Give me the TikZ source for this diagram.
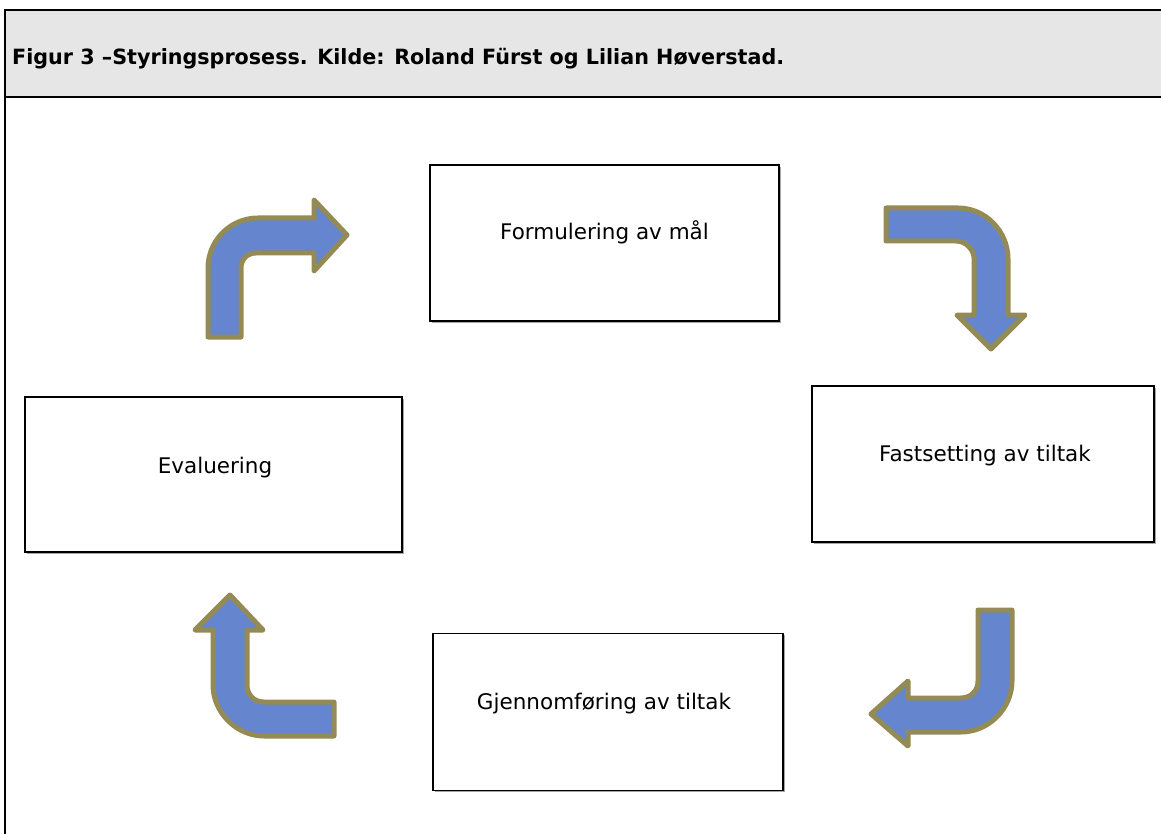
\documentclass[tikz,border=0pt]{standalone}
\usepackage{fontspec}
\setmainfont{DejaVu Sans}
\usetikzlibrary{shadows}
\definecolor{arrowfill}{HTML}{6586CE}
\definecolor{arrowline}{HTML}{948A54}
\definecolor{headgray}{HTML}{E6E6E6}
\begin{document}
\begin{tikzpicture}[x=1pt,y=-1pt,
  stepbox/.style={draw=black, line width=1.5pt, fill=white, inner sep=0pt,
    drop shadow={shadow xshift=1.6pt, shadow yshift=-1.6pt, opacity=1, fill=gray!70}},
  boxtext/.style={font=\fontsize{21.5}{26}\selectfont, inner sep=0pt, anchor=base},
  bentarrow/.style={fill=arrowfill, draw=arrowline, line width=5pt, line join=round},
  frameline/.style={draw=black, line width=2.5pt}]
\useasboundingbox (0,0) rectangle (1161,834);

% header
\fill[headgray] (5,10) rectangle (1161,97);
\draw[frameline] (3.75,10) -- (1161,10);
\draw[frameline] (5,10) -- (5,834);
\draw[frameline] (3.75,97) -- (1161,97);
\node[anchor=base west, inner sep=0pt] (title) at (12,65)
  {\resizebox{772pt}{\height}{\fontsize{21}{25}\selectfont\bfseries Figur 3 –Styringsprosess. Kilde: Roland Fürst og Lilian Høverstad.}};

% boxes
\node[stepbox, minimum width=349pt, minimum height=156pt] (mal) at (604.5,243) {};
\node[stepbox, minimum width=342pt, minimum height=156pt] (fast) at (983,464) {};
\node[stepbox, minimum width=377pt, minimum height=155pt] (eval) at (213.5,474.5) {};
\node[stepbox, minimum width=350pt, minimum height=157pt] (gjen) at (608,712) {};

\node[boxtext] (malt) at (604.5,240) {Formulering av mål};
\node[boxtext] (fastt) at (985,461) {Fastsetting av tiltak};
\node[boxtext] (evalt) at (215,473) {Evaluering};
\node[boxtext] (gjent) at (604,709) {Gjennomføring av tiltak};

% arrow 1: up then right
\draw[bentarrow] (208,337) -- (208,268) .. controls (208,240.4) and (230.4,218) .. (258,218)
  -- (314,218) -- (314,200) -- (347,235) -- (314,271) -- (314,253) -- (256,253)
  .. controls (247.2,253) and (241,259.2) .. (241,268) -- (241,337) -- cycle;

% arrow 2: right then down
\draw[bentarrow] (886,208) -- (958,208) .. controls (985.6,208) and (1008,231.4) .. (1008,259)
  -- (1008,315) -- (1025,315) -- (991,349) -- (957,315) -- (974,315) -- (974,258)
  .. controls (974,249.9) and (965.9,241) .. (956,241) -- (886,241) -- cycle;

% arrow 3: down then left
\draw[bentarrow] (978,610) -- (1012,610) -- (1012,681) .. controls (1012,708.6) and (988.6,732) .. (961,732)
  -- (908,732) -- (908,746) -- (871,714) -- (908,681) -- (908,698) -- (961,698)
  .. controls (970.9,698) and (978,690.9) .. (978,681) -- cycle;

% arrow 4: left then up
\draw[bentarrow] (334,702) -- (334,736) -- (264,736) .. controls (236.4,736) and (213,712.4) .. (213,685)
  -- (213,630) -- (195,630) -- (230,595) -- (263,630) -- (247,630) -- (247,685)
  .. controls (247,694.9) and (254.1,702) .. (264,702) -- cycle;
\end{tikzpicture}
\end{document}
